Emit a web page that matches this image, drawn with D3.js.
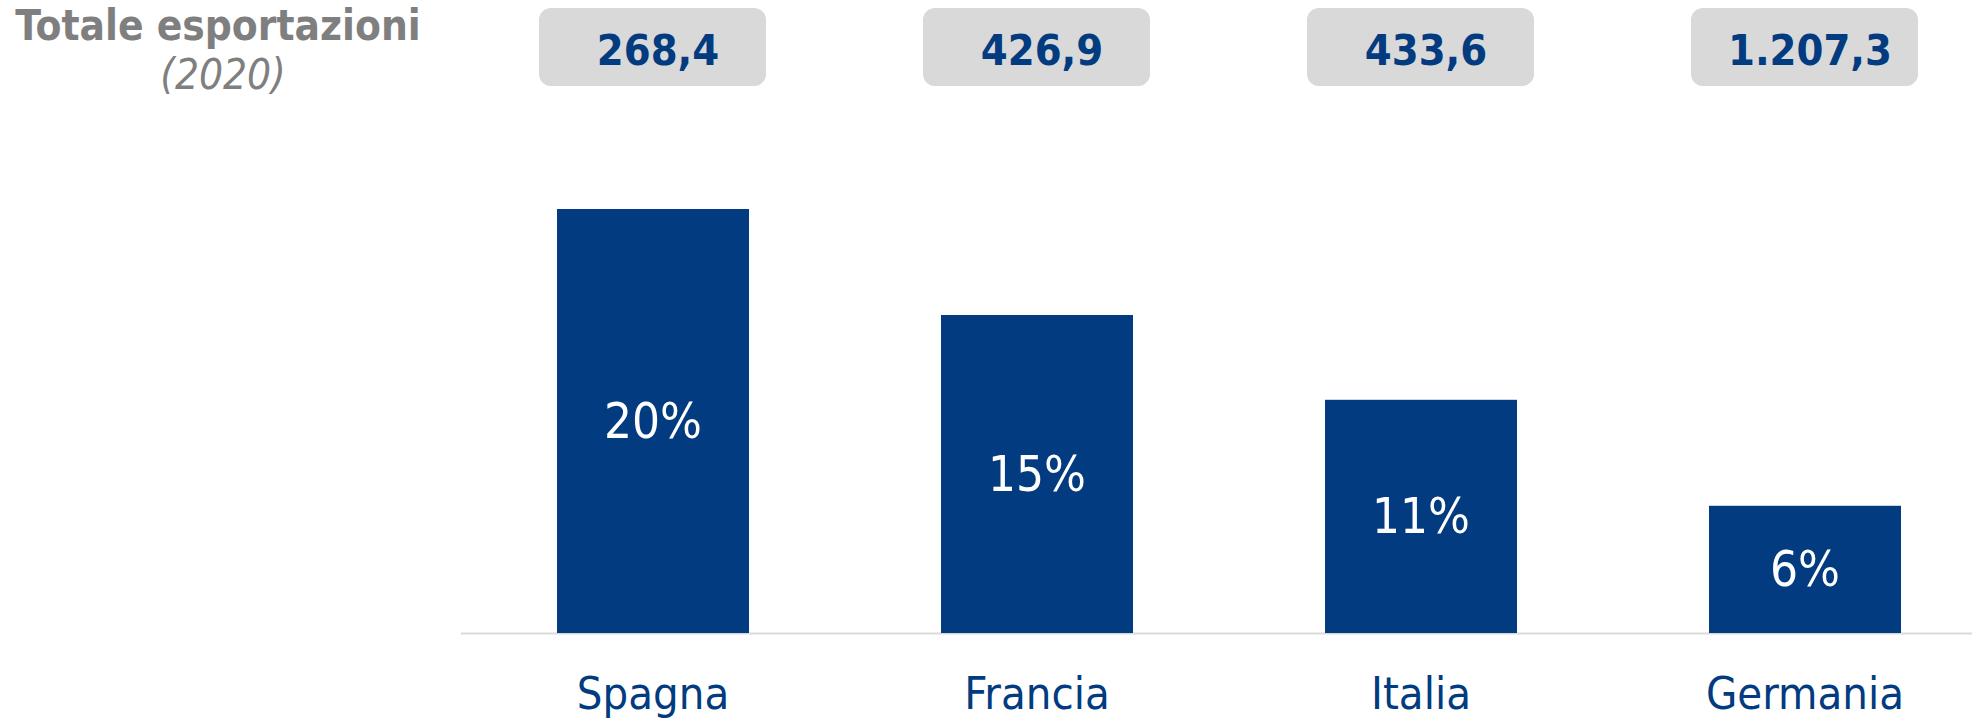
<!DOCTYPE html>
<html>
<head>
<meta charset="utf-8">
<script src="https://cdn.jsdelivr.net/npm/d3@7"></script>
<style>
  body { margin: 0; background: #fff; }
  svg { display: block; }
</style>
</head>
<body>
<svg id="chart" width="1972" height="722"></svg>
<script>
const countries = ["Spagna", "Francia", "Italia", "Germania"];
const shares = [20, 15, 11, 6];
const shareLabels = ["20%", "15%", "11%", "6%"];
const exportTotals = ["268,4", "426,9", "433,6", "1.207,3"];

const svg = d3.select("#chart"),
  width = +svg.attr("width"),
  font = "'DejaVu Sans Condensed', 'DejaVu Sans', sans-serif",
  blue = "#023b80",
  grey = "#7f7f7f";

const baseY = 633,
  axisLeft = 461;

const x = d3
  .scaleBand()
  .domain(countries)
  .range([axisLeft, axisLeft + 384 * countries.length])
  .paddingInner(0.5)
  .paddingOuter(0.25);

const y = d3.scaleLinear().domain([0, 20]).range([baseY, 209]);

const data = countries.map((c, i) => ({
  country: c,
  share: shares[i],
  label: shareLabels[i],
  total: exportTotals[i],
}));

// title on the left
svg
  .append("text")
  .attr("x", 218)
  .attr("y", 40)
  .attr("text-anchor", "middle")
  .attr("font-family", font)
  .attr("font-weight", "bold")
  .attr("font-size", 42)
  .attr("fill", grey)
  .text("Totale esportazioni");

svg
  .append("text")
  .attr("x", 223)
  .attr("y", 89)
  .attr("text-anchor", "middle")
  .attr("font-family", font)
  .attr("font-style", "italic")
  .attr("font-size", 42)
  .attr("fill", grey)
  .text("(2020)");

// grey boxes with totals
const boxes = svg.append("g").selectAll("g").data(data).join("g");

boxes
  .append("rect")
  .attr("x", (d) => x(d.country) + x.bandwidth() / 2 - 114)
  .attr("y", 8)
  .attr("width", 227)
  .attr("height", 78)
  .attr("rx", 12)
  .attr("fill", "#d9d9d9");

boxes
  .append("text")
  .attr("x", (d) => x(d.country) + x.bandwidth() / 2 + 5)
  .attr("y", 65)
  .attr("text-anchor", "middle")
  .attr("font-family", font)
  .attr("font-weight", "bold")
  .attr("font-size", 43)
  .attr("fill", blue)
  .text((d) => d.total);

// baseline
svg
  .append("line")
  .attr("x1", axisLeft)
  .attr("x2", width)
  .attr("y1", baseY + 0.5)
  .attr("y2", baseY + 0.5)
  .attr("stroke", "#d9d9d9")
  .attr("stroke-width", 2);

// bars
svg
  .append("g")
  .selectAll("rect")
  .data(data)
  .join("rect")
  .attr("x", (d) => x(d.country))
  .attr("y", (d) => y(d.share))
  .attr("width", x.bandwidth())
  .attr("height", (d) => y(0) - y(d.share))
  .attr("fill", blue);

// labels inside bars
svg
  .append("g")
  .selectAll("text")
  .data(data)
  .join("text")
  .attr("x", (d) => x(d.country) + x.bandwidth() / 2)
  .attr("y", (d) => (y(d.share) + y(0)) / 2 + 17)
  .attr("text-anchor", "middle")
  .attr("font-family", font)
  .attr("font-size", 49)
  .attr("fill", "#fff")
  .text((d) => d.label);

// category axis
const xAxis = svg
  .append("g")
  .attr("transform", `translate(0,${baseY})`)
  .call(d3.axisBottom(x).tickSize(0).tickPadding(0));

xAxis.select(".domain").remove();
xAxis
  .selectAll("text")
  .attr("dy", null)
  .attr("y", 76)
  .attr("font-family", font)
  .attr("font-size", 45)
  .attr("fill", blue);
</script>
</body>
</html>
